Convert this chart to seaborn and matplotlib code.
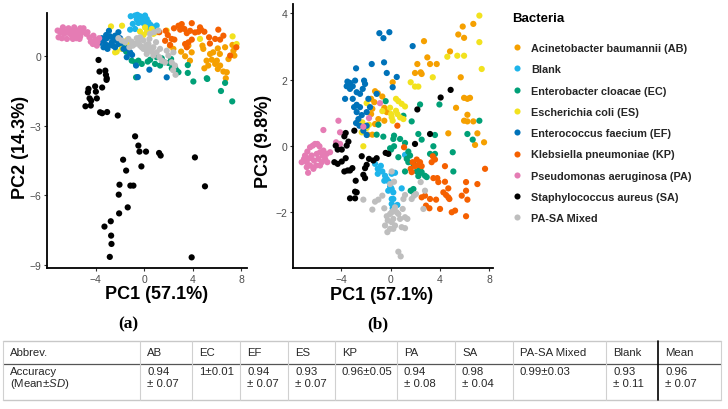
import numpy as np
import pandas as pd
import matplotlib
matplotlib.use("Agg")
import matplotlib.pyplot as plt
import seaborn as sns
from matplotlib.lines import Line2D

# ---------------- categories ----------------
groups = ["AB", "Blank", "EC", "ES", "EF", "KP", "PA", "SA", "Mixed"]
group_labels = ["Acinetobacter baumannii (AB)", "Blank", "Enterobacter cloacae (EC)",
                "Escherichia coli (ES)", "Enterococcus faecium (EF)",
                "Klebsiella pneumoniae (KP)", "Pseudomonas aeruginosa (PA)",
                "Staphylococcus aureus (SA)", "PA-SA Mixed"]
group_colors = ["#F5A000", "#1DB4EA", "#00A077", "#F2E21E", "#0072B9",
                "#F56000", "#E57CB4", "#000000", "#BEBEBE"]

# ---------------- panel (a): PC1 vs PC2 ----------------
AB_a_pc1 = [5.45, 6.09, 6.69, 7.30, 6.01, 5.59, 5.87, 6.28, 6.55, 6.83, 6.09, 6.97, 4.98, 3.66, 3.06,
            3.39, 4.82, 7.38, 7.46, 3.79, 3.93, 4.89, 5.30, 5.71, 6.26, 6.75, 2.14, 2.42, -1.35, -1.20,
            -0.95, -1.50, 5.16]
AB_a_pc2 = [0.10, 0.34, 0.39, 0.49, -0.19, -0.15, -0.33, -0.40, -0.66, -0.69, -0.55, -0.12, -0.52, 0.46, 0.20,
            0.00, 0.46, 0.24, 0.03, -0.19, 0.17, 0.32, -0.40, 0.17, 0.10, -0.95, 0.46, 0.32, 0.70, 0.45,
            0.55, 0.30, -0.19]
Blank_a_pc1 = [-1.10, -0.74, -0.55, -0.33, -0.11, 0.08, 0.22, -0.60, -0.19, -0.47, 0.00, 0.36, 0.55, 0.77,
               -0.93, -1.15, -0.74, 0.22, 0.63, 1.04]
Blank_a_pc2 = [1.73, 1.76, 1.79, 1.73, 1.69, 1.76, 1.61, 1.59, 1.50, 1.44, 1.40, 1.47, 1.35, 1.25,
               1.40, 1.15, 1.18, 1.21, 1.11, 1.33]
EC_a_pc1 = [-1.29, -1.02, -0.74, -0.47, -0.19, 0.30, 0.50, 1.46, 1.68, 2.01, 2.23, 2.42, 2.56, 2.70, 2.29,
            2.84, 3.61, 3.61, 4.07, 5.18, 5.22, 6.35, 6.69, 7.28, -0.66, -1.65, -1.48, 1.32, 0.91, 1.04]
EC_a_pc2 = [0.17, -0.19, -0.26, -0.19, -0.33, -0.23, -0.15, -0.09, -0.26, -0.29, -0.12, -0.40, -0.48, -0.62, -0.52,
            -0.69, -0.72, -0.38, -1.09, -0.95, -0.98, -1.50, -1.15, -1.95, -0.91, 0.35, 0.20, -0.40, -0.33, -0.04]
ES_a_pc1 = [-2.73, -1.82, 0.08, 0.63, 1.04, 0.22, 0.77, 1.87, -2.26, -1.84, -1.29, 4.62, 7.31, 7.64,
            -1.43, -0.05, -0.33, -2.39]
ES_a_pc2 = [1.29, 1.32, 1.25, 1.18, 1.04, 1.04, 0.97, 1.11, 0.20, 0.32, 0.53, 0.75, 0.86, 0.53,
            0.68, 0.92, 1.07, 0.17]
EF_a_pc1 = [-3.68, -3.35, -3.08, -2.80, -2.90, -3.21, -2.94, -2.66, -2.53, -2.39, -2.25, -2.58, -3.02, -3.35,
            -2.39, -2.12, -1.98, -3.49, -3.13, -2.12, -1.37, -1.43, -0.99, -0.66, -0.52, 0.44, 1.87, -1.15,
            -1.70, -1.84]
EF_a_pc2 = [0.58, 0.68, 0.78, 0.86, 1.10, 0.53, 0.46, 0.61, 0.75, 0.89, 0.68, 0.46, 0.32, 0.39,
            0.39, 0.53, 0.78, 0.78, 0.92, 1.04, 0.35, -0.04, 0.06, -0.40, -0.90, -0.58, -0.91, 0.17,
            0.32, 0.58]
KP_a_pc1 = [1.26, 1.79, 1.96, 1.74, 2.50, 2.15, 2.84, 3.11, 2.98, 3.33, 3.53, 3.80, 3.94, 4.21, 4.49, 4.71,
            4.98, 5.37, 5.87, 6.28, 6.55, 7.11, 3.66, 3.53, 3.39, 3.94, 2.47, 5.44, 6.13, 7.62, 4.62, 2.28]
KP_a_pc2 = [1.04, 1.10, 0.92, 0.67, 0.72, 0.49, 1.32, 1.39, 1.15, 1.18, 1.00, 1.10, 1.43, 1.03, 1.06, 1.15,
            1.06, 0.82, 0.75, 0.72, 0.89, 0.03, 0.60, 0.39, 0.53, 0.72, 1.21, 0.55, 1.15, 0.39, 1.25, 0.75]
PA_a_pc1 = [-7.14, -6.92, -6.76, -6.59, -7.06, -6.43, -6.24, -6.10, -5.96, -5.82, -5.69, -5.55, -5.41, -5.27,
            -5.14, -5.88, -6.37, -6.79, -5.60, -5.33, -5.00, -4.78, -4.51, -4.40, -4.18, -4.04, -3.85, -3.71,
            -4.23, -3.90, -4.67, -6.70, -6.24, -5.77, -5.27]
PA_a_pc2 = [1.11, 1.04, 1.15, 0.97, 0.82, 1.07, 1.01, 1.11, 0.89, 1.04, 1.15, 0.97, 1.07, 0.86,
            1.04, 0.75, 0.75, 0.78, 0.78, 0.75, 1.21, 0.97, 0.82, 0.63, 0.89, 0.72, 0.61, 0.78,
            0.53, 0.46, 1.04, 1.25, 1.21, 1.25, 1.21]
SA_a_pc1 = [-3.76, -3.68, -3.20, -3.15, -3.08, -3.10, -4.04, -4.59, -4.64, -3.98, -3.46, -4.50, -3.90, -4.37,
            -4.84, -4.40, -3.63, -3.46, -3.05, -2.17, -0.74, -0.47, -0.38, 0.16, 1.24, 1.37, 4.20, -1.73,
            -1.48, -0.22, 5.03, -2.03, -1.13, -0.88, -2.09, -1.35, -2.06, -2.75, -3.27, -2.72, -2.69,
            -2.83, 3.93]
SA_a_pc2 = [-0.16, -0.66, -0.62, -0.80, -0.95, -1.02, -1.30, -1.41, -1.56, -1.53, -1.35, -1.82, -1.82, -1.92,
            -2.16, -2.13, -2.42, -2.46, -2.41, -2.56, -3.46, -3.86, -4.12, -4.12, -4.18, -4.29, -4.37, -4.47,
            -4.94, -4.76, -5.62, -5.55, -5.59, -5.59, -5.98, -6.53, -6.79, -7.13, -7.36, -7.75, -8.11,
            -8.67, -8.69]
Mixed_a_pc1 = [-2.12, -1.84, -1.57, -1.29, -1.02, -0.74, -0.47, -0.33, -0.19, -0.05, 0.16, 0.36, 0.49, 0.63,
               0.77, 0.22, -0.05, -0.33, -0.60, -0.93, -1.21, 0.22, 0.77, 1.04, 1.26, 1.46, 1.73, 2.01,
               2.28, 2.55, 2.40, 2.60, 0.49, 0.82, 1.18, 0.44, 0.99, 1.32, 1.87, 2.42]
Mixed_a_pc2 = [0.78, 0.68, 0.61, 0.75, 0.63, 0.53, 0.61, 0.46, 0.39, 0.32, 0.46, 0.53, 0.32, 0.20,
               0.39, 0.24, 0.68, 0.82, 0.78, 0.46, 0.39, 0.10, 0.03, 0.17, -0.04, -0.19, -0.26, 0.03,
               -0.26, -0.40, -0.60, -0.80, 0.97, 1.04, 1.11, 0.75, 0.61, 0.32, 0.24, 0.17]

# ---------------- panel (b): PC1 vs PC3 ----------------
AB_b_pc1 = [2.70, 2.97, 2.16, 3.19, 3.73, 1.97, 2.43, 2.51, 5.68, 5.84, 5.48, 5.95, 6.70, 4.81, 5.95, 6.22,
            6.43, 5.30, 6.22, 5.95, 6.22, 6.70, 7.03, 4.67, 0.16, 7.57, 6.84, -1.27, -1.05, -0.68, -1.59,
            -1.33, -0.52, -1.49, -1.59, -0.32, -1.00, -0.52, -1.27, -1.49, -1.87]
AB_b_pc3 = [3.16, 2.67, 2.47, 2.47, 2.47, 2.20, 2.22, 2.17, 2.07, 3.60, 3.36, 3.26, 3.68, 2.85, 1.45, 1.42,
            1.45, 1.15, 0.94, 0.76, 0.74, 0.74, 0.38, 0.38, 1.92, 0.11, 0.03, 1.65, 1.59, 1.49, 1.42,
            1.32, 1.15, 1.12, 0.96, 1.02, 0.81, 0.76, 0.66, 0.34, 0.34]
Blank_b_pc1 = [-1.27, -1.05, -0.68, -0.46, -0.32, -0.14, -0.05, 0.08, 0.21, -1.05, -0.52, 0.08, 0.21, 0.08,
               0.35, 0.00, 0.89, 0.08, 0.54, 0.16, 1.16, -0.80, -0.20]
Blank_b_pc3 = [-0.54, -0.69, -0.77, -0.90, -1.00, -1.08, -1.22, -1.30, -1.40, -0.84, -1.05, -0.84, -1.60, -1.75,
               -0.81, -1.25, -1.28, -1.60, -1.78, -1.88, -0.27, -0.60, -1.35]
EC_b_pc1 = [2.38, 3.95, 1.70, 1.03, 7.19, 2.24, 6.22, 0.27, 0.76, 1.16, 2.51, 3.59, 6.65, 0.27, 0.62, 1.43,
            1.30, 1.57, 1.43, 1.84, 1.16, 2.11, 2.32, 2.51, 2.78, 2.38, 2.24, 2.92, 3.19, 3.59, 5.03, 5.08,
            1.62, 1.84, 1.78, -0.05, 3.46, -0.41, -1.00, -0.60, -1.14, 0.03, 0.21]
EC_b_pc3 = [1.25, 1.25, 0.74, 0.91, 0.76, 0.36, 0.36, 0.31, 0.21, 0.09, 0.19, 0.33, 0.19, -0.01, -0.34, -0.17,
            -0.39, -0.29, -0.49, -0.54, -0.77, -0.77, -0.84, -0.79, -0.90, -0.69, -0.91, -0.94, -0.24, -0.24,
            -0.19, -0.77, -1.35, -1.30, -1.38, -0.07, -0.01, 1.35, 0.64, 0.28, 0.34, -0.11, 0.21]
ES_b_pc1 = [7.19, 7.19, 7.38, 4.59, 5.40, 5.95, 3.41, 1.62, 1.97, 2.24, 0.43, 0.62, 0.89, 1.16, 0.43, 0.54,
            0.76, 0.08, 0.16, 1.03, -0.05, 0.03, -0.68, -1.95, -2.30, -1.95, -1.76, -2.22, -2.35]
ES_b_pc3 = [3.93, 3.13, 2.32, 2.69, 2.72, 2.72, 2.07, 1.92, 1.79, 1.79, 1.42, 1.35, 1.27, 1.19, 1.06, 0.96,
            0.86, 0.86, 0.76, 0.81, 1.15, 0.96, 1.05, 1.29, 0.71, 0.54, 0.64, -0.01, 0.41]
EF_b_pc1 = [-0.92, -0.59, -0.11, -0.54, 1.78, -2.81, -1.54, -0.32, 0.49, 0.16, -3.51, -3.30, -3.57, -3.08,
            -3.30, -2.89, -2.16, -2.08, -2.27, -2.49, -3.70, -3.08, -2.76, -2.49, -2.97, -2.76, -2.62, -2.81,
            -2.35, -1.95, -1.95, -1.95, -2.22, -2.54, -1.14, -1.81, -1.68, -2.76]
EF_b_pc3 = [3.40, 3.25, 3.43, 2.52, 3.01, 2.34, 2.47, 2.20, 2.08, 1.77, 1.94, 1.90, 1.80, 1.80,
            1.72, 1.97, 1.97, 1.87, 1.72, 1.57, 1.42, 1.42, 1.24, 1.17, 1.17, 1.02, 0.81, 0.69,
            0.93, 1.02, 0.61, 0.33, 0.46, 0.61, 1.57, 1.42, 1.17, 1.62]
KP_b_pc1 = [1.08, 1.78, 2.11, 2.24, 2.38, 2.51, 1.97, 1.62, 1.70, 3.32, 3.59, 3.41, 4.40, 7.65, 3.46, 3.78,
            3.86, 4.40, 6.11, 7.03, 4.67, 4.27, 4.49, 4.67, 4.76, 5.76, 6.11, 6.22, 2.51, 2.78, 3.19, 3.68,
            2.86, 3.14, 4.00, 4.95, 5.22, 6.11, 0.54]
KP_b_pc3 = [-0.04, -0.49, -0.41, -0.57, -0.49, -0.61, -0.61, -0.69, -0.79, -0.49, -0.41, -0.31, -0.61, -0.69,
            -0.97, -0.97, -1.09, -1.08, -1.09, -1.15, -1.28, -1.40, -1.48, -1.55, -1.60, -1.50, -1.35, -1.62,
            -1.55, -1.50, -1.60, -1.62, -1.80, -1.88, -1.90, -2.00, -1.95, -2.12, 0.61]
PA_b_pc1 = [-7.22, -6.95, -6.76, -6.54, -6.32, -6.14, -5.95, -5.78, -7.03, -6.81, -6.59, -6.41, -6.22, -6.00,
            -5.73, -5.51, -5.32, -5.14, -5.59, -5.86, -6.05, -6.54, -6.81, -6.27, -6.70, -5.46, -5.19, -4.43,
            -4.24, -4.11, -5.73, -4.92, -0.87, -4.24, -5.46, -4.11, -2.22, -1.76]
PA_b_pc3 = [-0.49, -0.29, -0.17, -0.04, 0.01, 0.06, 0.06, -0.01, -0.39, -0.49, -0.37, -0.29, -0.44, -0.24,
            -0.19, -0.29, -0.39, -0.49, -0.49, -0.39, -0.59, -0.59, -0.64, -0.69, -0.81, -0.14, -0.24, 0.11,
            0.01, 0.06, -0.59, -0.19, 1.29, 0.76, 0.48, 0.41, 0.58, 0.84]
SA_b_pc1 = [-4.57, -4.30, -3.97, -3.49, -3.30, -3.76, -3.11, -2.84, -2.22, -2.08, -1.95, -1.76, -2.08, -2.35,
            -1.41, -1.14, -0.41, -0.19, -3.65, -3.76, -3.43, -3.57, -3.97, -4.46, -4.30, -2.95, -2.89, -2.76,
            -3.30, -2.89, -3.65, 1.97, 2.16, 3.19, 4.05, 4.86]
SA_b_pc3 = [-0.49, -0.54, -0.47, -0.74, -0.74, -0.77, -0.67, -1.05, -0.87, -0.67, -0.57, -0.39, -0.97, -0.31,
            -0.44, -0.37, -0.21, -0.24, 0.39, 0.29, 0.13, 0.01, -0.11, 0.01, -0.11, 0.46, -1.38, -1.40,
            -1.58, -1.58, -0.37, 0.06, 1.10, 0.36, 1.46, 1.69]
Mixed_b_pc1 = [-2.22, -1.27, -1.00, -0.68, -1.49, -0.52, -0.32, -0.05, -0.46, -0.24, 0.21, 0.08, 0.08, 0.27,
               -0.05, 1.16, 1.03, 1.70, 1.89, 2.05, 2.65, 2.78, 2.43, 0.35, 0.08, 0.62, 0.21, 0.76, 1.16,
               1.35, 0.35, 0.89, 1.16, -0.05, 0.21, 0.62, 0.81, 0.49, 0.97, -0.27]
Mixed_b_pc3 = [-1.62, -1.68, -1.62, -1.50, -1.92, -1.88, -2.12, -2.05, -2.40, -2.25, -1.95, -2.30, -0.77, -1.08,
               -1.15, -1.48, -1.60, -1.60, -1.50, -1.45, -1.90, -1.35, -1.09, -1.85, -2.00, -2.05, -2.20, -2.20,
               -2.15, -2.20, -2.40, -2.45, -2.48, -2.50, -2.50, -3.19, -3.33, -2.00, -1.90, -2.60]

# ---------------- table ----------------
table_header = ["Abbrev.", "AB", "EC", "EF", "ES", "KP", "PA", "SA", "PA-SA Mixed", "Blank", "Mean"]
acc_mean = ["0.94", "1", "0.94", "0.93", "0.96", "0.94", "0.98", "0.99", "0.93", "0.96"]
acc_sd = ["0.07", "0.01", "0.07", "0.07", "0.05", "0.08", "0.04", "0.03", "0.11", "0.07"]
acc_wrapped = [True, False, True, True, False, True, True, False, True, True]

# ---------------- style ----------------
sns.set_theme(style="white")
plt.rcParams['font.family'] = ['Liberation Sans', 'DejaVu Sans']
plt.rcParams['mathtext.fontset'] = 'custom'
plt.rcParams['mathtext.rm'] = 'Liberation Sans'
plt.rcParams['mathtext.it'] = 'Liberation Sans:italic'

palette = dict(zip(groups, group_colors))


def frame(series):
    rows = []
    for g, (xs, ys) in zip(groups, series):
        rows.append(pd.DataFrame({"x": xs, "y": ys, "group": g}))
    return pd.concat(rows, ignore_index=True)


dfA = frame([(AB_a_pc1, AB_a_pc2), (Blank_a_pc1, Blank_a_pc2), (EC_a_pc1, EC_a_pc2),
             (ES_a_pc1, ES_a_pc2), (EF_a_pc1, EF_a_pc2), (KP_a_pc1, KP_a_pc2),
             (PA_a_pc1, PA_a_pc2), (SA_a_pc1, SA_a_pc2), (Mixed_a_pc1, Mixed_a_pc2)])
dfB = frame([(AB_b_pc1, AB_b_pc3), (Blank_b_pc1, Blank_b_pc3), (EC_b_pc1, EC_b_pc3),
             (ES_b_pc1, ES_b_pc3), (EF_b_pc1, EF_b_pc3), (KP_b_pc1, KP_b_pc3),
             (PA_b_pc1, PA_b_pc3), (SA_b_pc1, SA_b_pc3), (Mixed_b_pc1, Mixed_b_pc3)])

W, H = 728, 410
fig = plt.figure(figsize=(W / 100, H / 100), dpi=100)

axA = fig.add_axes([46.7 / W, 1 - 269 / H, 200.3 / W, 255 / H])
axB = fig.add_axes([293.3 / W, 1 - 269.3 / H, 200 / W, 264.3 / H])

PT = 20
sns.scatterplot(data=dfA, x="x", y="y", hue="group", hue_order=groups, palette=palette,
                s=PT, linewidth=0, alpha=1, ax=axA, legend=False, clip_on=False)
sns.scatterplot(data=dfB, x="x", y="y", hue="group", hue_order=groups, palette=palette,
                s=PT, linewidth=0, alpha=1, ax=axB, legend=False, clip_on=False)

axA.set_xlim(-8.04, 8.5)
axA.set_ylim(-9.15, 1.87)
axA.set_xticks([-4, 0, 4, 8])
axA.set_yticks([-9, -6, -3, 0])
axB.set_xlim(-7.9, 8.32)
axB.set_ylim(-3.69, 4.28)
axB.set_xticks([-4, 0, 4, 8])
axB.set_yticks([-2, 0, 2, 4])

for ax in (axA, axB):
    for s in ("top", "right"):
        ax.spines[s].set_visible(False)
    for s in ("left", "bottom"):
        ax.spines[s].set_color("black")
        ax.spines[s].set_linewidth(1.3)
    ax.tick_params(bottom=True, left=True, direction="out", length=2.5, width=0.8,
                   color="#333333", labelsize=7.5, labelcolor="#4D4D4D", pad=1.5)
    ax.set_facecolor("white")

axA.set_xlabel("PC1 (57.1%)", fontsize=13, fontweight="bold", color="black")
axA.set_ylabel("PC2 (14.3%)", fontsize=13, fontweight="bold", color="black")
axB.set_xlabel("PC1 (57.1%)", fontsize=13, fontweight="bold", color="black")
axB.set_ylabel("PC3 (9.8%)", fontsize=13, fontweight="bold", color="black")
axA.xaxis.set_label_coords(0.55, -0.068)
axB.xaxis.set_label_coords(0.44, -0.066)
axA.yaxis.set_label_coords(-0.09, 0.475)
axB.yaxis.set_label_coords(-0.105, 0.485)

# legend
fig.text(511.7 / W, 1 - 19 / H, "Bacteria", fontsize=9.5, fontweight="bold",
         ha="left", va="center", color="black")
handles = [Line2D([], [], linestyle="none", marker="o", markersize=4.4,
                  markerfacecolor=c, markeredgewidth=0) for c in group_colors]
fig.legend(handles, group_labels, loc="upper left", bbox_to_anchor=(512.5 / W, 1 - 44 / H),
           frameon=False, prop={"weight": "bold", "size": 7.8}, handlelength=0.8,
           handletextpad=0.95, labelspacing=1.04, borderpad=0, borderaxespad=0)

# panel letters
fig.text(128 / W, 1 - 324 / H, "(a)", fontsize=12.5, family="Liberation Serif", fontweight="bold",
         ha="center", va="center", color="black")
fig.text(378 / W, 1 - 324 / H, "(b)", fontsize=12.5, family="Liberation Serif", fontweight="bold",
         ha="center", va="center", color="black")

# table
axT = fig.add_axes([0, 0, 1, 1], zorder=-1)
axT.set_xlim(0, W)
axT.set_ylim(H, 0)
axT.axis("off")
col_edges = [3, 140, 192, 240, 288, 335, 397, 455, 513, 606, 658, 721]
y_top, y_mid, y_bot = 342, 364.5, 400.5
axT.plot([col_edges[0], col_edges[-1]], [y_top, y_top], color="#C8C8C8", lw=1.0)
axT.plot([col_edges[0], col_edges[-1]], [y_mid, y_mid], color="#555555", lw=0.9)
axT.plot([col_edges[0], col_edges[-1]], [y_bot, y_bot], color="#C8C8C8", lw=1.0)
for i, xe in enumerate(col_edges):
    if i == len(col_edges) - 2:
        axT.plot([xe, xe], [y_top, y_bot], color="black", lw=1.2)
    else:
        axT.plot([xe, xe], [y_top, y_bot], color="#D0D0D0", lw=0.8)

TF = 8.2
tc = "#262626"
for i, h in enumerate(table_header):
    axT.text(col_edges[i] + 7, 353.5, h, fontsize=TF, color=tc, ha="left", va="center")
axT.text(col_edges[0] + 7, 372, "Accuracy", fontsize=TF, color=tc, ha="left", va="center")
axT.text(col_edges[0] + 7, 384.5, r"(Mean$\pm$$\mathit{SD}$)", fontsize=TF, color=tc, ha="left", va="center")
for i, (m, sd, wrap) in enumerate(zip(acc_mean, acc_sd, acc_wrapped)):
    x0 = col_edges[i + 1] + 7
    if wrap:
        axT.text(x0, 372, m, fontsize=TF, color=tc, ha="left", va="center")
        axT.text(x0, 384.5, "\u00b1 " + sd, fontsize=TF, color=tc, ha="left", va="center")
    else:
        axT.text(x0, 372, m + "\u00b1" + sd, fontsize=TF, color=tc, ha="left", va="center")

fig.savefig("out.png", dpi=100, facecolor="white")
